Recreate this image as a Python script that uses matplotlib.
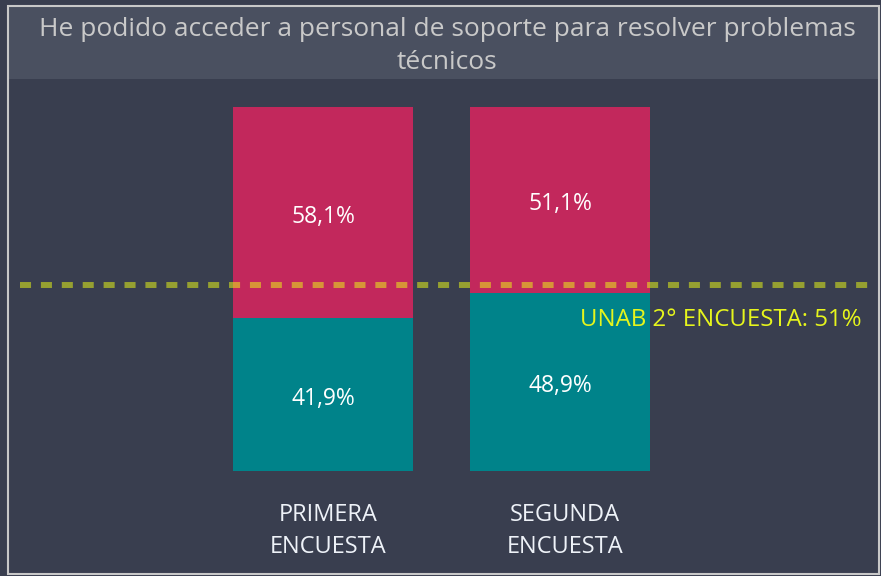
import matplotlib
matplotlib.use("Agg")
import matplotlib.pyplot as plt
import matplotlib.transforms as mtransforms
from matplotlib.patches import Rectangle

categories = ["PRIMERA\nENCUESTA", "SEGUNDA\nENCUESTA"]
bottom_vals = [41.9, 48.9]   # teal segment
top_vals = [58.1, 51.1]      # crimson segment
reference_val = 51
reference_label = "UNAB 2° ENCUESTA: 51%"
title = "He podido acceder a personal de soporte para resolver problemas\ntécnicos"

plt.rcParams['font.family'] = ['Open Sans', 'DejaVu Sans']

W, H = 881, 576
fig = plt.figure(figsize=(W / 100, H / 100), dpi=100)
bg = "#393e4f"
fig.patch.set_facecolor(bg)

# title bar and frame
fig.patches.append(Rectangle((8 / W, 1 - 79 / H), 870 / W, 73 / H, transform=fig.transFigure,
                             facecolor="#4a5060", edgecolor="none", zorder=0))
fig.patches.append(Rectangle((8 / W, 1 - 574 / H), 871 / W, 568 / H, transform=fig.transFigure,
                             facecolor="none", edgecolor="#c8c8c8", linewidth=1.5, zorder=5))
fig.text(447 / W, 1 - 46 / H, title, ha="center", va="center", color="#c9c9c9",
         fontsize=19, linespacing=1.4)

ax_left, ax_right = 20, 870
ax_bottom, ax_top = 471, 107
ax = fig.add_axes([ax_left / W, 1 - ax_bottom / H, (ax_right - ax_left) / W, (ax_bottom - ax_top) / H])
ax.set_facecolor("none")
for s in ax.spines.values():
    s.set_visible(False)

x = [0, 1]
width = 180 / 237
ax.bar(x, bottom_vals, width=width, color="#00838a", zorder=2)
ax.bar(x, top_vals, width=width, bottom=bottom_vals, color="#c2285c", zorder=2)
ax.set_xlim(-(323 - ax_left) / 237, 1 + (ax_right - 560) / 237)
ax.set_ylim(0, 100)

down = mtransforms.offset_copy(ax.transData, fig=fig, x=0, y=-4, units="dots")
for xi, b, t in zip(x, bottom_vals, top_vals):
    ax.text(xi, b / 2, f"{b:.1f}%".replace(".", ","), ha="center", va="center",
            color="white", fontsize=16.5, zorder=4, transform=down)
    ax.text(xi, b + t / 2, f"{t:.1f}%".replace(".", ","), ha="center", va="center",
            color="white", fontsize=16.5, zorder=4, transform=down)

ax.axhline(reference_val, color="#ecfb16", alpha=0.52, linewidth=4.3,
           linestyle=(0, (1.85, 1.65)), zorder=3)
ax.text(1 + (862 - 560) / 237, reference_val - 8.5, reference_label, ha="right", va="center",
        color="#e6f51c", fontsize=17.3, zorder=4, transform=down)

ax.set_xticks([])
ax.set_yticks([])
trans = mtransforms.blended_transform_factory(ax.transData, fig.transFigure)
for xi, cat in zip(x, categories):
    ax.text(xi + 5 / 237, 1 - 531 / H, cat, transform=trans, ha="center", va="center",
            color="#eef2f8", fontsize=17, linespacing=1.47)

fig.savefig("out.png", dpi=100, facecolor=fig.get_facecolor())
